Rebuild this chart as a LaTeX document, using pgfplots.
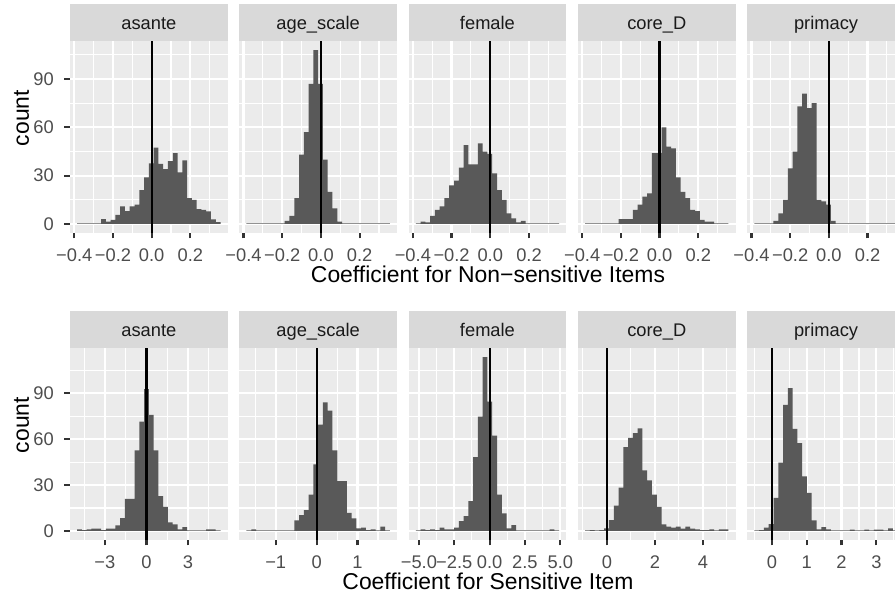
\documentclass[border=0pt]{standalone}
\usepackage{fontspec}
\setmainfont{Liberation Sans}
\usepackage{pgfplots}
\pgfplotsset{compat=1.18}
\definecolor{panelbg}{HTML}{EBEBEB}
\definecolor{stripbg}{HTML}{D9D9D9}
\definecolor{barfill}{HTML}{595959}
\definecolor{tickcol}{HTML}{333333}
\definecolor{ticklab}{HTML}{4D4D4D}
\definecolor{striptext}{HTML}{1A1A1A}
\newcommand\tickfont{\fontsize{18.3bp}{22bp}\selectfont}
\newcommand\titlefont{\fontsize{22.9bp}{27bp}\selectfont}
\pgfplotsset{
  facet/.style={
    scale only axis, width=157.7bp, anchor=south west,
    axis background/.style={fill=panelbg},
    axis line style={draw=none},
    tick align=outside, major tick length=5.73bp, minor tick length=0pt,
    tick style={color=tickcol, line width=2.2bp},
    tick pos=left,
    grid=both,
    major grid style={white, line width=2.2bp},
    minor grid style={white, line width=1.1bp},
    tick label style={font=\tickfont, text=ticklab, inner sep=0pt},
    xticklabel style={anchor=north, yshift=-10.3bp},
    yticklabel style={anchor=east, xshift=-10.3bp},
    ytick={0,30,60,90}, minor ytick={15,45,75,105},
  },
  toprow/.style={facet, height=191.3bp, ymin=-5.4, ymax=113.4,
    xmin=-0.422, xmax=0.393, xtick={-0.4,-0.2,0,0.2},
    xticklabels={−0.4,−0.2,0.0,0.2}, minor xtick={-0.3,-0.1,0.1,0.3}},
  botrow/.style={facet, height=191.4bp, ymin=-5.68, ymax=119.3},
  firstcol/.style={yticklabels={0,30,60,90}},
  othercol/.style={yticklabels={}, ytick style={draw=none}},
  hist/.style={ybar interval, fill=barfill, draw=none},
  vl/.style={black, line width=2.2bp},
}
\begin{document}
\begin{tikzpicture}[x=1bp,y=1bp]
\useasboundingbox (0,0) rectangle (895,598);
\clip (0,0) rectangle (895,598);

% ---------------- top row ----------------
\begin{axis}[toprow, firstcol, at={(70bp,365.3bp)}]
\addplot[hist] coordinates {(-0.3850,0.4) (-0.3603,0.4) (-0.3356,0.4) (-0.3109,0.4) (-0.2862,0.4) (-0.2615,3) (-0.2368,1.5) (-0.2121,2.5) (-0.1874,5.6) (-0.1627,11) (-0.1380,8) (-0.1133,11) (-0.0886,12) (-0.0639,21) (-0.0392,29) (-0.0145,37.7) (0.0102,47.4) (0.0349,37.3) (0.0596,34) (0.0843,39) (0.1090,44) (0.1337,32) (0.1584,39.5) (0.1831,16) (0.2078,15) (0.2325,9.3) (0.2572,8.7) (0.2819,7.9) (0.3066,2.9) (0.3313,1.2) (0.3560,0)};
\addplot[vl] coordinates {(0,-10) (0,130)};
\end{axis}
\begin{axis}[toprow, othercol, at={(239.3bp,365.3bp)}]
\addplot[hist] coordinates {(-0.3850,0.4) (-0.3603,0.4) (-0.3356,0.4) (-0.3109,0.4) (-0.2862,0.4) (-0.2615,0.4) (-0.2368,0.4) (-0.2121,0.4) (-0.1874,2) (-0.1627,5) (-0.1380,16) (-0.1133,43) (-0.0886,57) (-0.0639,87) (-0.0392,108) (-0.0145,87) (0.0102,40) (0.0349,20) (0.0596,9.7) (0.0843,1.5) (0.1090,0.4) (0.1337,0.4) (0.1584,0.4) (0.1831,0.4) (0.2078,0.4) (0.2325,0.4) (0.2572,0.4) (0.2819,0.4) (0.3066,0.4) (0.3313,0.4) (0.3560,0)};
\addplot[vl] coordinates {(0,-10) (0,130)};
\end{axis}
\begin{axis}[toprow, othercol, at={(408.6bp,365.3bp)}]
\addplot[hist] coordinates {(-0.3850,0.4) (-0.3603,1.5) (-0.3356,1) (-0.3109,5) (-0.2862,8.7) (-0.2615,11) (-0.2368,16) (-0.2121,24) (-0.1874,27) (-0.1627,35) (-0.1380,49) (-0.1133,37) (-0.0886,37) (-0.0639,50) (-0.0392,45) (-0.0145,43.5) (0.0102,31.5) (0.0349,21) (0.0596,15) (0.0843,6.6) (0.1090,3.5) (0.1337,1) (0.1584,2) (0.1831,0.4) (0.2078,0.4) (0.2325,0.4) (0.2572,0.4) (0.2819,0.4) (0.3066,0.4) (0.3313,0.4) (0.3560,0)};
\addplot[vl] coordinates {(0,-10) (0,130)};
\end{axis}
\begin{axis}[toprow, othercol, at={(577.9bp,365.3bp)}]
\addplot[hist] coordinates {(-0.3850,0.4) (-0.3603,0.4) (-0.3356,0.4) (-0.3109,0.4) (-0.2862,0.4) (-0.2615,0.4) (-0.2368,0.4) (-0.2121,3) (-0.1874,3) (-0.1627,3) (-0.1380,8.7) (-0.1133,12) (-0.0886,17) (-0.0639,19) (-0.0392,44) (-0.0145,44) (0.0102,60) (0.0349,48) (0.0596,47) (0.0843,29) (0.1090,20) (0.1337,16) (0.1584,8.7) (0.1831,8) (0.2078,2.5) (0.2325,1.5) (0.2572,1.5) (0.2819,0.4) (0.3066,0.4) (0.3313,0.4) (0.3560,0)};
\addplot[vl] coordinates {(0,-10) (0,130)};
\end{axis}
\begin{axis}[toprow, othercol, at={(747.2bp,365.3bp)}]
\addplot[hist] coordinates {(-0.3850,0.4) (-0.3603,0.4) (-0.3356,0.4) (-0.3109,0.4) (-0.2862,2) (-0.2615,6.6) (-0.2368,15) (-0.2121,34.6) (-0.1874,45) (-0.1627,73) (-0.1380,81) (-0.1133,72) (-0.0886,75) (-0.0639,15) (-0.0392,14) (-0.0145,12) (0.0102,2) (0.0349,0.4) (0.0596,0.4) (0.0843,0.4) (0.1090,0.4) (0.1337,0.4) (0.1584,0.4) (0.1831,0.4) (0.2078,0.4) (0.2325,0.4) (0.2572,0.4) (0.2819,0.4) (0.3066,0.4) (0.3313,0.4) (0.3560,0)};
\addplot[vl] coordinates {(0,-10) (0,130)};
\end{axis}

% ---------------- bottom row ----------------
\begin{axis}[botrow, firstcol, at={(70bp,58.3bp)}, xmin=-5.52, xmax=5.866,
  xtick={-3,0,3}, xticklabels={−3,0,3}, minor xtick={-4.5,-1.5,1.5,4.5}]
\addplot[hist] coordinates {(-5.003,1) (-4.658,0.5) (-4.313,1) (-3.968,1.5) (-3.623,1.5) (-3.278,0.6) (-2.933,1.5) (-2.588,1.5) (-2.243,3.7) (-1.898,8.4) (-1.553,21) (-1.208,21) (-0.863,52.6) (-0.518,71.4) (-0.173,92.6) (0.172,75.8) (0.517,52.6) (0.862,22.7) (1.207,15.8) (1.552,5.6) (1.897,4.3) (2.242,1) (2.587,2.6) (2.932,0.4) (3.277,0.4) (3.622,0.4) (3.967,0.4) (4.312,1) (4.657,1) (5.002,0.4) (5.347,0)};
\addplot[vl] coordinates {(0,-10) (0,130)};
\end{axis}
\begin{axis}[botrow, othercol, at={(239.3bp,58.3bp)}, xmin=-1.890, xmax=1.966,
  xtick={-1,0,1}, xticklabels={−1,0,1}, minor xtick={-1.5,-0.5,0.5,1.5}]
\addplot[hist] coordinates {(-1.7147,0.4) (-1.5979,1) (-1.4810,0.4) (-1.3642,0.4) (-1.2473,0.4) (-1.1305,0.4) (-1.0136,0.4) (-0.8968,0.4) (-0.7799,0.4) (-0.6631,0.4) (-0.5462,7) (-0.4294,10.4) (-0.3125,13.6) (-0.1957,23.8) (-0.0788,43.5) (0.0380,69.5) (0.1549,84) (0.2717,78.6) (0.3886,52.6) (0.5054,32.5) (0.6223,32.5) (0.7391,11.9) (0.8560,8.2) (0.9728,1.7) (1.0897,2.2) (1.2065,0.6) (1.3234,1.1) (1.4402,0.4) (1.5571,2.8) (1.6739,0.4) (1.7908,0)};
\addplot[vl] coordinates {(0,-10) (0,130)};
\end{axis}
\begin{axis}[botrow, othercol, at={(408.6bp,58.3bp)}, xmin=-5.728, xmax=5.425,
  xtick={-5,-2.5,0,2.5,5}, xticklabels={−5.0,−2.5,0.0,2.5,5.0}, minor xtick={-3.75,-1.25,1.25,3.75}]
\addplot[hist] coordinates {(-5.221,0.4) (-4.883,1) (-4.545,0.6) (-4.207,1) (-3.869,0.6) (-3.531,2.2) (-3.193,1.1) (-2.855,1.1) (-2.517,2.2) (-2.179,6.5) (-1.841,9.7) (-1.503,19.5) (-1.165,48.3) (-0.827,74.7) (-0.489,113.6) (-0.151,84.4) (0.187,62.3) (0.525,23.8) (0.863,11.5) (1.201,1.7) (1.538,3.9) (1.876,0.4) (2.214,0.4) (2.552,0.4) (2.890,0.4) (3.228,0.4) (3.566,0.4) (3.904,0.4) (4.242,1) (4.580,0.4) (4.918,0)};
\addplot[vl] coordinates {(0,-10) (0,130)};
\end{axis}
\begin{axis}[botrow, othercol, at={(577.9bp,58.3bp)}, xmin=-1.208, xmax=5.363,
  xtick={0,2,4}, xticklabels={0,2,4}, minor xtick={-1,1,3,5}]
\addplot[hist] coordinates {(-0.9090,0.4) (-0.7099,0.6) (-0.5108,0.4) (-0.3116,0.6) (-0.1125,1.7) (0.0866,7.1) (0.2857,16.5) (0.4848,28.4) (0.6840,54.8) (0.8831,60.8) (1.0822,63.9) (1.2813,67) (1.4804,39.6) (1.6796,33) (1.8787,23.8) (2.0778,15.8) (2.2769,4.3) (2.4760,2.8) (2.6752,2.2) (2.8743,2.8) (3.0734,1.5) (3.2725,2.8) (3.4716,1.5) (3.6708,1.1) (3.8699,0.6) (4.0690,0.6) (4.2681,1.1) (4.4672,0.4) (4.6664,1.1) (4.8655,1.1) (5.0646,0)};
\addplot[vl] coordinates {(0,-10) (0,130)};
\end{axis}
\begin{axis}[botrow, othercol, at={(747.2bp,58.3bp)}, xmin=-0.709, xmax=3.819,
  xtick={0,1,2,3}, xticklabels={0,1,2,3}, minor xtick={-0.5,0.5,1.5,2.5,3.5}]
\addplot[hist] coordinates {(-0.503,0.4) (-0.3658,0.6) (-0.2286,2.2) (-0.0914,4.5) (0.0458,21.6) (0.1830,44.6) (0.3202,82.3) (0.4574,93.3) (0.5946,66.7) (0.7318,57.4) (0.8690,35.7) (1.0062,24.9) (1.1434,7) (1.2806,1.1) (1.4178,2.6) (1.5550,1) (1.6922,0.4) (1.8294,0.4) (1.9666,0.4) (2.1038,0.4) (2.2410,0.9) (2.3782,0.4) (2.5154,0.4) (2.6526,0.9) (2.7898,0.4) (2.9270,0.9) (3.0642,0.9) (3.2014,0.4) (3.3386,1.7) (3.4758,0.4) (3.6130,0)};
\addplot[vl] coordinates {(0,-10) (0,130)};
\end{axis}

% ---------------- strips ----------------
\foreach \l/\t in {70/asante, 239.3/age\_scale, 408.6/female, 577.9/core\_D, 747.2/primacy}{
  \fill[stripbg] (\l,556.6) rectangle ++(157.7,37.3);
  \node[anchor=base, font=\tickfont, text=striptext, inner sep=0pt] at (\l+78.85,568) {\t};
  \fill[stripbg] (\l,249.7) rectangle ++(157.7,37.3);
  \node[anchor=base, font=\tickfont, text=striptext, inner sep=0pt] at (\l+78.85,261.3) {\t};
}

% ---------------- titles ----------------
\node[anchor=base, font=\titlefont, inner sep=0pt] at (488,315.8) {Coefficient for Non−sensitive Items};
\node[anchor=base, font=\titlefont, inner sep=0pt] at (488,8.9) {Coefficient for Sensitive Item};
\node[anchor=base, rotate=90, font=\titlefont, inner sep=0pt] at (28.8,480) {count};
\node[anchor=base, rotate=90, font=\titlefont, inner sep=0pt] at (28.8,173) {count};
\end{tikzpicture}
\end{document}
